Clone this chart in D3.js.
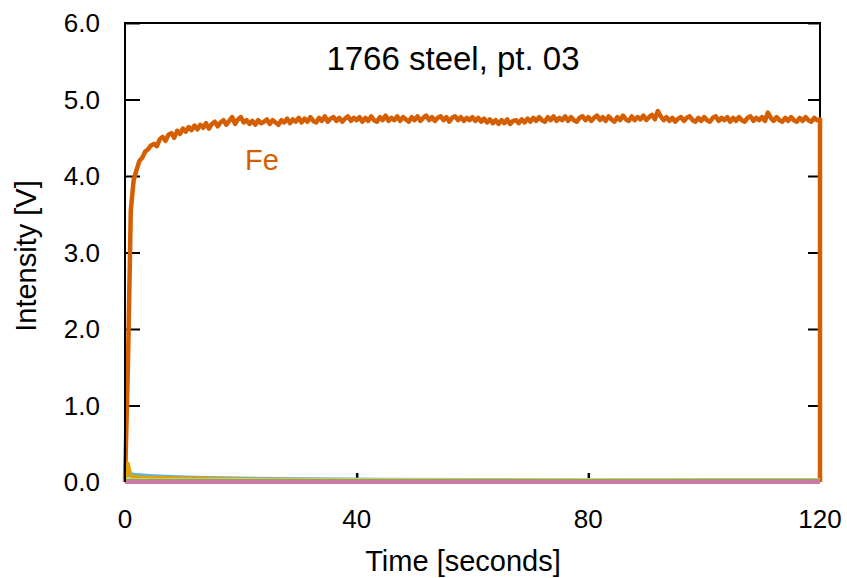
<!DOCTYPE html>
<html><head><meta charset="utf-8">
<script src="https://cdn.jsdelivr.net/npm/d3@7"></script>
<style>body{margin:0;background:#fff}svg{display:block}text{font-family:"Liberation Sans",Arial,sans-serif}</style>
</head><body><svg id="c" width="847" height="578"></svg>
<script>
const title = "1766 steel, pt. 03";
const xTicks = [0, 40, 80, 120];
const yTicks = [0, 1, 2, 3, 4, 5, 6];
// Fe sampled every 0.5 s from 0 to 120 s
const feValues = [
0, 1.5, 3.55, 3.95, 4.08, 4.20, 4.24, 4.32, 4.35, 4.40, 4.42, 4.39, 4.48, 4.51, 4.46, 4.54, 4.56, 4.50, 4.59, 4.55,
4.62, 4.58, 4.64, 4.60, 4.66, 4.61, 4.67, 4.63, 4.69, 4.62, 4.68, 4.71, 4.65, 4.70, 4.73, 4.67, 4.72, 4.77, 4.68, 4.74,
4.77, 4.70, 4.73, 4.68, 4.72, 4.67, 4.73, 4.69, 4.71, 4.74, 4.68, 4.73, 4.70, 4.67, 4.73, 4.70, 4.75, 4.69, 4.74, 4.71,
4.76, 4.70, 4.75, 4.71, 4.77, 4.72, 4.70, 4.76, 4.72, 4.78, 4.71, 4.75, 4.77, 4.72, 4.76, 4.71, 4.75, 4.78, 4.72, 4.76,
4.73, 4.77, 4.71, 4.76, 4.72, 4.78, 4.73, 4.71, 4.77, 4.73, 4.79, 4.72, 4.76, 4.73, 4.78, 4.72, 4.77, 4.74, 4.71, 4.77,
4.73, 4.78, 4.72, 4.76, 4.79, 4.73, 4.77, 4.72, 4.76, 4.78, 4.73, 4.77, 4.71, 4.76, 4.78, 4.73, 4.77, 4.72, 4.76, 4.73,
4.77, 4.72, 4.76, 4.71, 4.75, 4.70, 4.74, 4.69, 4.73, 4.68, 4.73, 4.69, 4.74, 4.68, 4.72, 4.73, 4.69, 4.74, 4.70, 4.75,
4.71, 4.76, 4.72, 4.77, 4.73, 4.71, 4.77, 4.73, 4.78, 4.72, 4.76, 4.73, 4.78, 4.72, 4.77, 4.73, 4.71, 4.76, 4.78, 4.73,
4.77, 4.72, 4.76, 4.79, 4.73, 4.77, 4.72, 4.78, 4.74, 4.71, 4.77, 4.73, 4.79, 4.74, 4.72, 4.78, 4.73, 4.77, 4.74, 4.79,
4.73, 4.77, 4.80, 4.74, 4.85, 4.78, 4.73, 4.77, 4.72, 4.76, 4.71, 4.75, 4.77, 4.72, 4.76, 4.78, 4.73, 4.71, 4.76, 4.72,
4.77, 4.73, 4.71, 4.76, 4.78, 4.72, 4.76, 4.73, 4.77, 4.71, 4.76, 4.72, 4.77, 4.73, 4.71, 4.76, 4.78, 4.72, 4.76, 4.73,
4.77, 4.72, 4.83, 4.76, 4.72, 4.77, 4.73, 4.71, 4.76, 4.72, 4.77, 4.73, 4.71, 4.76, 4.72, 4.77, 4.73, 4.71, 4.76, 4.73,
4.74, 0];
const feTimes = d3.range(0, 120.01, 0.5).concat([120]);
// minor elements on a coarse time grid
const minorTimes = [0, 0.3, 0.5, 0.8, 1, 1.5, 2, 3, 5, 8, 12, 20, 30, 45, 60, 80, 100, 120];
const blueValues   = [0, 0.05, 0.12, 0.11, 0.10, 0.095, 0.09, 0.085, 0.075, 0.065, 0.055, 0.045, 0.035, 0.03, 0.025, 0.025, 0.025, 0.025];
const amberValues  = [0, 0.15, 0.24, 0.13, 0.08, 0.07, 0.065, 0.06, 0.055, 0.05, 0.045, 0.035, 0.03, 0.025, 0.02, 0.02, 0.02, 0.02];
const yellowValues = [0, 0.04, 0.05, 0.045, 0.04, 0.04, 0.035, 0.04, 0.035, 0.04, 0.035, 0.04, 0.035, 0.04, 0.035, 0.04, 0.035, 0.035];
const greenValues  = [0, 0.03, 0.03, 0.03, 0.03, 0.028, 0.03, 0.028, 0.03, 0.028, 0.03, 0.028, 0.03, 0.028, 0.03, 0.028, 0.03, 0.03];
const pinkValues   = [0, 0, 0, 0, 0, 0, 0, 0, 0, 0, 0, 0, 0, 0, 0, 0, 0, 0];

const svg = d3.select("#c");
const L = 125, R = 820, T = 23, B = 482;
const x = d3.scaleLinear().domain([0, 120]).range([L, R]);
const y = d3.scaleLinear().domain([0, 6]).range([B, T]);
const line = d3.line().x(d => x(d[0])).y(d => y(d[1]));
const pair = (ts, vs) => ts.map((t, i) => [t, vs[i]]);

// frame and ticks
svg.append("path").attr("d", `M${L},${B}V${T}H${R}V${B}`).attr("fill", "none").attr("stroke", "#000").attr("stroke-width", 2);
svg.append("g").attr("transform", `translate(${L},0)`)
  .call(d3.axisRight(y).tickValues(yTicks).tickSize(15).tickFormat(""))
  .call(a => a.select(".domain").remove()).selectAll("line").attr("stroke-width", 2);
svg.append("g").attr("transform", `translate(${R},0)`)
  .call(d3.axisLeft(y).tickValues(yTicks).tickSize(12).tickFormat(""))
  .call(a => a.select(".domain").remove()).selectAll("line").attr("stroke-width", 2);
svg.append("g").attr("transform", `translate(0,${B})`)
  .call(d3.axisTop(x).tickValues([40, 80]).tickSize(9).tickFormat(""))
  .call(a => a.select(".domain").remove()).selectAll("line").attr("stroke-width", 2.5);

const g = svg.append("g");
const minor = [
  {v: blueValues, c: "#56B4E9", w: 4},
  {v: amberValues, c: "#E69F00", w: 4},
  {v: yellowValues, c: "#F0E442", w: 2},
  {v: greenValues, c: "#8DA07E", w: 2}
];
g.append("path").datum(pair(feTimes, feValues)).attr("d", line)
  .attr("fill", "none").attr("stroke", "#D55E00").attr("stroke-width", 4.5).attr("stroke-linejoin", "round");
minor.forEach(s => g.append("path").datum(pair(minorTimes, s.v)).attr("d", line)
  .attr("fill", "none").attr("stroke", s.c).attr("stroke-width", s.w).attr("stroke-linejoin", "round"));
svg.append("path").datum(pair(minorTimes, pinkValues)).attr("d", line)
  .attr("fill", "none").attr("stroke", "#CC79A7").attr("stroke-width", 4);
svg.append("line").attr("x1", L).attr("x2", L).attr("y1", T).attr("y2", B).attr("stroke", "#000").attr("stroke-width", 2);

// tick labels
svg.append("g").selectAll("text").data(yTicks).join("text")
  .attr("x", 100).attr("y", d => y(d)).attr("dy", "0.35em").attr("text-anchor", "end")
  .attr("font-size", 26).text(d => d.toFixed(1));
svg.append("g").selectAll("text").data(xTicks).join("text")
  .attr("x", d => x(d)).attr("y", 519).attr("dy", "0.35em").attr("text-anchor", "middle")
  .attr("font-size", 26).text(d => d);

svg.append("text").attr("x", 463).attr("y", 561).attr("dy", "0.35em").attr("text-anchor", "middle")
  .attr("font-size", 29).text("Time [seconds]");
svg.append("text").attr("transform", "translate(26,256) rotate(-90)").attr("dy", "0.35em").attr("text-anchor", "middle")
  .attr("font-size", 29).text("Intensity [V]");
svg.append("text").attr("x", 453).attr("y", 58).attr("dy", "0.35em").attr("text-anchor", "middle")
  .attr("font-size", 33).text(title);
svg.append("text").attr("x", 262).attr("y", 160).attr("dy", "0.35em").attr("text-anchor", "middle")
  .attr("font-size", 29).attr("fill", "#D55E00").text("Fe");
</script></body></html>
